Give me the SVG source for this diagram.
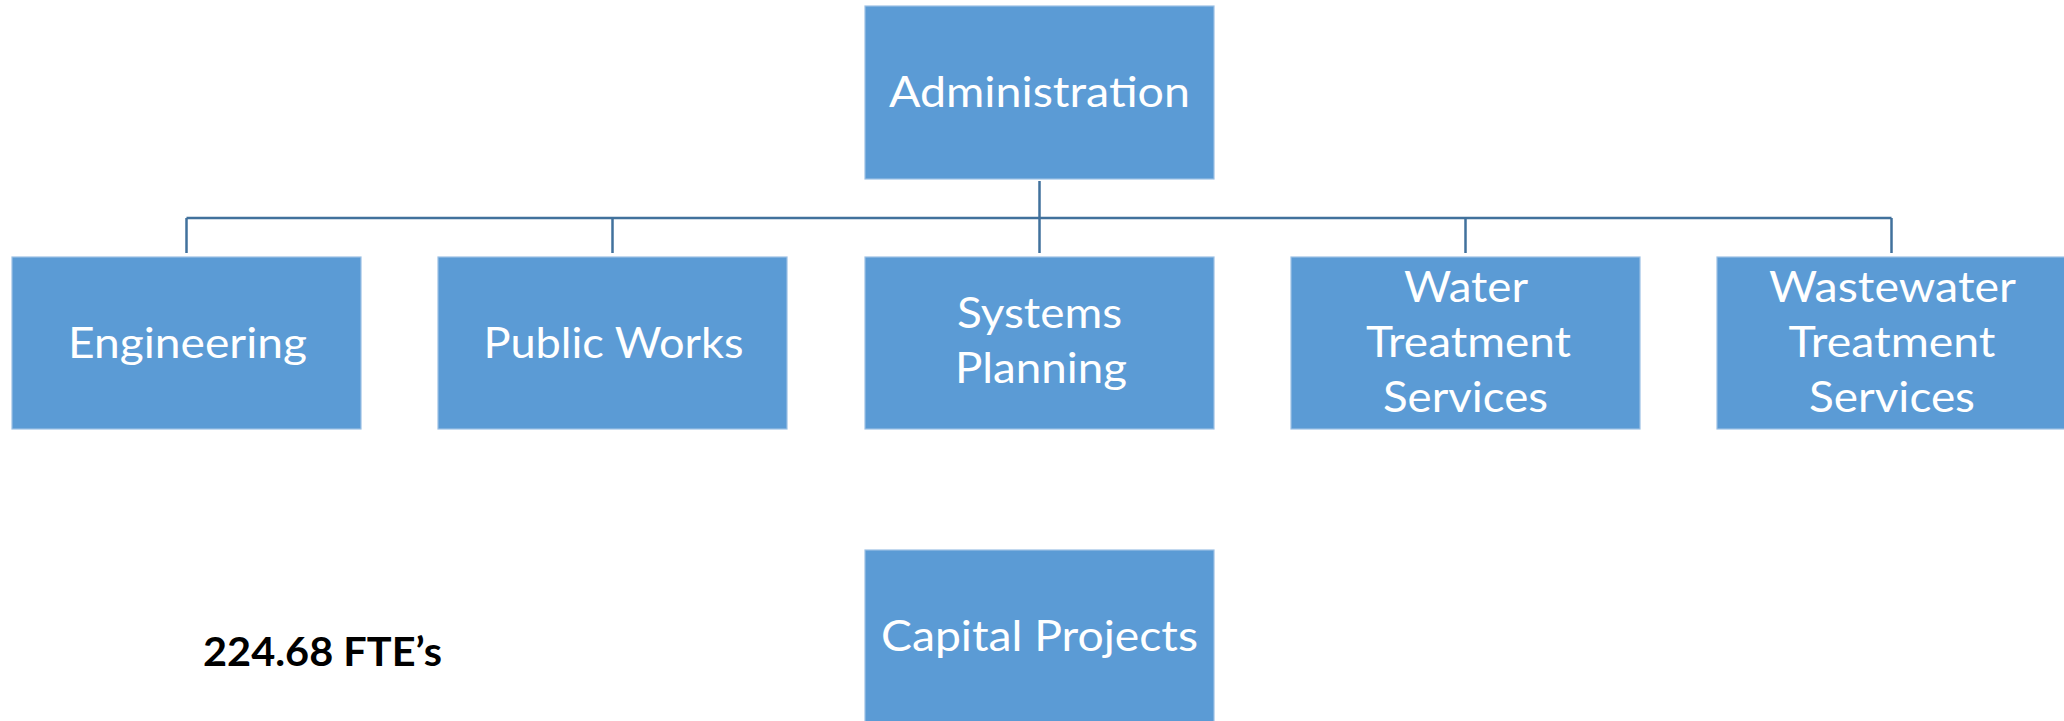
<svg xmlns="http://www.w3.org/2000/svg" width="2064" height="721" viewBox="0 0 2064 721">
<style>
.box{fill:#5B9BD5;stroke:#9CC0E4;stroke-width:1.2}
.lbl{font-family:Lato,"Open Sans","Liberation Sans",sans-serif;font-size:43px;fill:#FFFFFF;text-anchor:middle}
.con{stroke:#41719C;stroke-width:2.5;fill:none}
.note{font-family:Lato,"Open Sans","Liberation Sans",sans-serif;font-size:40px;font-weight:bold;fill:#000000}
</style>
<rect x="0" y="0" width="2064" height="721" fill="#FFFFFF"/>
<g id="connectors">
<path class="con" d="M1039.5 181 V253"/>
<path class="con" d="M186.5 218 H1891.5"/>
<path class="con" d="M186.5 218 V253"/>
<path class="con" d="M612.5 218 V253"/>
<path class="con" d="M1465.5 218 V253"/>
<path class="con" d="M1891.5 218 V253"/>
</g>
<g id="administration">
<rect class="box" x="865" y="6" width="349" height="173"/>
<text class="lbl" x="1039.5" y="107" textLength="301" lengthAdjust="spacingAndGlyphs">Administration</text>
</g>
<g id="engineering">
<rect class="box" x="12" y="257" width="349" height="172"/>
<text class="lbl" x="187.5" y="358" textLength="239" lengthAdjust="spacingAndGlyphs">Engineering</text>
</g>
<g id="public-works">
<rect class="box" x="438" y="257" width="349" height="172"/>
<text class="lbl" x="613.5" y="358" textLength="260" lengthAdjust="spacingAndGlyphs">Public Works</text>
</g>
<g id="systems-planning">
<rect class="box" x="865" y="257" width="349" height="172"/>
<text class="lbl" x="1039.5" y="328" textLength="165" lengthAdjust="spacingAndGlyphs">Systems</text>
<text class="lbl" x="1041" y="383" textLength="172" lengthAdjust="spacingAndGlyphs">Planning</text>
</g>
<g id="water-treatment">
<rect class="box" x="1291" y="257" width="349" height="172"/>
<text class="lbl" x="1466" y="302" textLength="124" lengthAdjust="spacingAndGlyphs">Water</text>
<text class="lbl" x="1468.5" y="357" textLength="205" lengthAdjust="spacingAndGlyphs">Treatment</text>
<text class="lbl" x="1465.5" y="412" textLength="165" lengthAdjust="spacingAndGlyphs">Services</text>
</g>
<g id="wastewater-treatment">
<rect class="box" x="1717" y="257" width="349" height="172"/>
<text class="lbl" x="1892.5" y="302" textLength="247" lengthAdjust="spacingAndGlyphs">Wastewater</text>
<text class="lbl" x="1892" y="357" textLength="207" lengthAdjust="spacingAndGlyphs">Treatment</text>
<text class="lbl" x="1892" y="412" textLength="166" lengthAdjust="spacingAndGlyphs">Services</text>
</g>
<g id="capital-projects">
<rect class="box" x="865" y="550" width="349" height="173"/>
<text class="lbl" x="1039.5" y="651" textLength="317" lengthAdjust="spacingAndGlyphs">Capital Projects</text>
</g>
<g id="fte-note">
<text class="note" x="203" y="666" textLength="239" lengthAdjust="spacingAndGlyphs">224.68 FTE’s</text>
</g>
</svg>
